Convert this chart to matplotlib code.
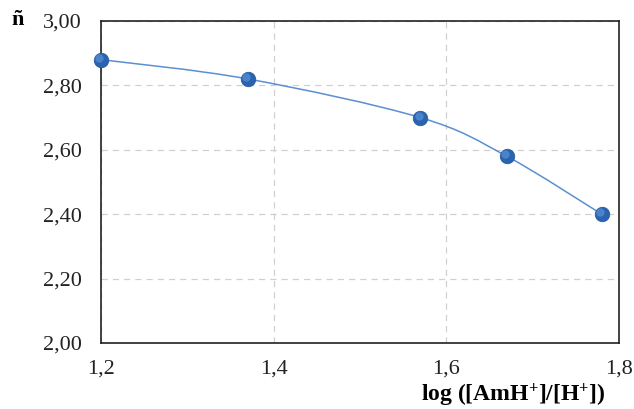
import numpy as np
import matplotlib
matplotlib.use('Agg')
from matplotlib import pyplot as plt
from matplotlib.path import Path
from matplotlib.patches import PathPatch
from matplotlib.ticker import FuncFormatter
from matplotlib.transforms import offset_copy

# log([AmH+]/[H+]) vs formation function n
log_ratio = [1.20, 1.37, 1.57, 1.67, 1.78]
n_bar = [2.88, 2.82, 2.70, 2.58, 2.40]

x_ticks = [1.2, 1.4, 1.6, 1.8]
y_ticks = [2.0, 2.2, 2.4, 2.6, 2.8, 3.0]

plt.rcParams['font.family'] = ['Liberation Serif', 'DejaVu Serif']
plt.rcParams['mathtext.fontset'] = 'custom'
plt.rcParams['mathtext.rm'] = 'Liberation Serif:bold'
plt.rcParams['mathtext.bf'] = 'Liberation Serif:bold'
plt.rcParams['mathtext.default'] = 'bf'

fig = plt.figure(figsize=(6.34, 4.09), dpi=100)
ax = fig.add_axes([0.1593, 0.1614, 0.817, 0.7873])

# smoothed connecting line (cubic Bezier segments, Catmull-Rom style tangents)
pts = np.column_stack([log_ratio, n_bar])
verts = [pts[0]]
codes = [Path.MOVETO]
for i in range(len(pts) - 1):
    p0 = pts[max(i - 1, 0)]
    p1 = pts[i]
    p2 = pts[i + 1]
    p3 = pts[min(i + 2, len(pts) - 1)]
    c1 = p1 + (p2 - p0) / 6.0
    c2 = p2 - (p3 - p1) / 6.0
    verts += [c1, c2, p2]
    codes += [Path.CURVE4] * 3
ax.add_patch(PathPatch(Path(verts, codes), facecolor='none',
                       edgecolor='#5b8fd0', linewidth=1.1, zorder=3))

# markers: base ball plus a soft highlight nudged to the upper left
ax.plot(log_ratio, n_bar, 'o', ms=10.5, color='#2a64ae',
        markeredgecolor='#24569a', markeredgewidth=0.5, zorder=4,
        clip_on=False)
hl = offset_copy(ax.transData, fig=fig, x=-1.2, y=1.4, units='points')
ax.plot(log_ratio, n_bar, 'o', ms=6, color='#4f86d0', alpha=0.9,
        markeredgewidth=0, zorder=5, clip_on=False, transform=hl)

ax.set_xlim(1.2, 1.8)
ax.set_ylim(2.0, 3.0)
ax.set_xticks(x_ticks)
ax.set_yticks(y_ticks)

ax.xaxis.set_major_formatter(FuncFormatter(lambda v, p: f'{v:.1f}'.replace('.', ',')))
ax.yaxis.set_major_formatter(FuncFormatter(lambda v, p: f'{v:.2f}'.replace('.', ',')))
ax.tick_params(axis='both', length=0, labelsize=16, colors='#222222')
ax.tick_params(axis='y', pad=14)
ax.tick_params(axis='x', pad=12)

ax.grid(True, color='#d0d0d0', linestyle=(0, (5, 4)), linewidth=0.9)
ax.set_axisbelow(True)
for s in ax.spines.values():
    s.set_color('#222222')
    s.set_linewidth(1.2)

fig.text(0.018, 0.952, 'ñ', fontsize=16, fontweight='bold', ha='left', va='center')
fig.text(0.955, 0.018, 'log ([AmH$^{+}$]/[H$^{+}$])',
         fontsize=17, fontweight='bold', ha='right', va='baseline')

plt.savefig('out.png', dpi=100)
